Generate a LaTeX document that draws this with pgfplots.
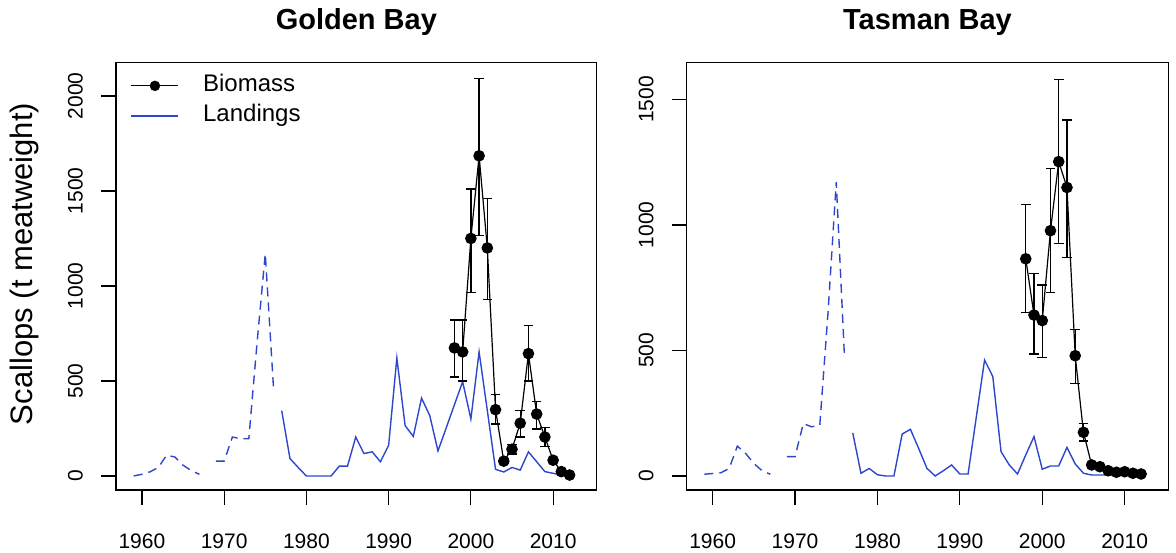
\documentclass[border=0pt]{standalone}
\usepackage{fontspec}
\setmainfont{Liberation Sans}
\usepackage{pgfplots}
\pgfplotsset{compat=1.18}
\usepackage{pgfplotstable}
\definecolor{landblue}{RGB}{45,70,205}

% Golden Bay
\pgfplotstableread{
year l
1959 0
1960 9
1961 22
1962 45
1963 109
1964 100
1965 57
1966 28
1967 9
}\gbdashA
\pgfplotstableread{
year l
1969 78
1970 78
1971 205
1972 196
1973 196
1974 700
1975 1170
1976 465
}\gbdashB
\pgfplotstableread{
year l
1977 344
1978 92
1979 45
1980 0
1981 0
1982 0
1983 0
1984 52
1985 52
1986 205
1987 118
1988 127
1989 75
1990 161
1991 621
1992 266
1993 208
1994 410
1995 318
1996 132
1997 253
1998 375
1999 496
2000 300
2001 653
2002 344
2003 35
2004 21
2005 45
2006 31
2007 127
2008 75
2009 23
2010 14
2011 5
2012 5
}\gbsolid
\pgfplotstableread{
year b ep em
1998 674 147 153
1999 653 168 153
2000 1250 260 285
2001 1685 405 420
2002 1200 260 273
2003 349 81 75
2004 78 12 12
2005 141 25 25
2006 278 66 73
2007 644 148 144
2008 326 66 78
2009 205 52 49
2010 83 10 10
2011 23 5 5
2012 5 3 3
}\gbbio

% Tasman Bay
\pgfplotstableread{
year l
1959 7
1960 10
1961 13
1962 30
1963 119
1964 90
1965 50
1966 21
1967 7
}\tbdashA
\pgfplotstableread{
year l
1969 77
1970 77
1971 209
1972 196
1973 202
1974 650
1975 1170
1976 474
}\tbdashB
\pgfplotstableread{
year l
1977 172
1978 11
1979 30
1980 5
1981 0
1982 0
1983 167
1984 186
1985 110
1986 31
1987 0
1988 21
1989 44
1990 8
1991 8
1992 235
1993 462
1994 396
1995 97
1996 44
1997 8
1998 84
1999 157
2000 27
2001 40
2002 40
2003 114
2004 48
2005 11
2006 4
2007 4
2008 4
2009 3
2010 3
2011 2
2012 2
}\tbsolid
\pgfplotstableread{
year b ep em
1998 865 217 214
1999 641 166 155
2000 619 142 148
2001 977 249 245
2002 1252 328 325
2003 1149 269 278
2004 479 105 110
2005 174 36 35
2006 44 10 10
2007 37 8 8
2008 21 5 5
2009 15 4 4
2010 17 4 4
2011 11 3 3
2012 8 3 3
}\tbbio

\pgfplotsset{
  panel/.style={
    scale only axis, anchor=south west,
    height=427.3pt,
    xmin=1956.85, xmax=2015.3,
    xtick={1960,1970,1980,1990,2000,2010},
    tick align=outside, major tick length=15pt,
    xtick pos=bottom, ytick pos=left,
    tick style={black, line width=1.2pt},
    axis line style={line width=1.2pt},
    ticklabel style={font=\fontsize{21}{25}\selectfont},
    /pgf/number format/assume math mode=true,
    /pgf/number format/1000 sep={},
    yticklabel style={rotate=90, anchor=south, inner sep=0pt},
    xticklabel style={anchor=north, inner sep=0pt},
    xticklabel shift=29pt, yticklabel shift=18pt,
    title style={font=\bfseries\fontsize{29}{34}\selectfont, at={(0.5,1)}, anchor=base, yshift=27pt},
  },
  dashland/.style={landblue, line width=1.4pt, dash pattern=on 9pt off 6pt, forget plot},
  solidland/.style={landblue, line width=1.4pt, forget plot},
  bio/.style={black, line width=1.2pt, mark=*, mark size=5.2pt, forget plot,
    error bars/.cd, y dir=both, y explicit,
    error bar style={line width=1.3pt, black},
    error mark options={rotate=90, mark size=4.8pt, line width=1.3pt, black}},
}

\begin{document}
\begin{tikzpicture}
\useasboundingbox (0,0) rectangle (1176pt,553pt);
\begin{axis}[panel, at={(116pt,63pt)}, width=480.7pt,
  ymin=-73.7, ymax=2175,
  ytick={0,500,1000,1500,2000},
  title={Golden Bay},
  ylabel={Scallops (t meatweight)},
  ylabel style={font=\fontsize{31}{36}\selectfont, at={(axis description cs:-0.1747,0.529)}, anchor=base, rotate=0},
  legend style={draw=none, fill=none, at={(axis description cs:0.024,0.986)}, anchor=north west,
    font=\fontsize{24}{28}\selectfont, legend cell align=left,
    nodes={inner sep=4pt, text height=17pt, text depth=5pt},
    /tikz/every odd column/.append style={column sep=20pt}},
]
\addlegendimage{legend image code/.code={\draw[black, line width=1.2pt] (0pt,0pt) -- (47pt,0pt); \fill[black] (23.5pt,0pt) circle (5pt);}}
\addlegendentry{Biomass}
\addlegendimage{legend image code/.code={\draw[landblue, line width=1.4pt] (0pt,0pt) -- (47pt,0pt);}}
\addlegendentry{Landings}
\addplot[dashland] table[x=year,y=l] {\gbdashA};
\addplot[dashland] table[x=year,y=l] {\gbdashB};
\addplot[solidland] table[x=year,y=l] {\gbsolid};
\addplot[bio] table[x=year, y=b, y error plus=ep, y error minus=em] {\gbbio};
\end{axis}

\begin{axis}[panel, at={(686.7pt,63pt)}, width=481.6pt,
  ymin=-55.7, ymax=1646,
  ytick={0,500,1000,1500},
  title={Tasman Bay},
]
\addplot[dashland] table[x=year,y=l] {\tbdashA};
\addplot[dashland] table[x=year,y=l] {\tbdashB};
\addplot[solidland] table[x=year,y=l] {\tbsolid};
\addplot[bio] table[x=year, y=b, y error plus=ep, y error minus=em] {\tbbio};
\end{axis}
\end{tikzpicture}
\end{document}
